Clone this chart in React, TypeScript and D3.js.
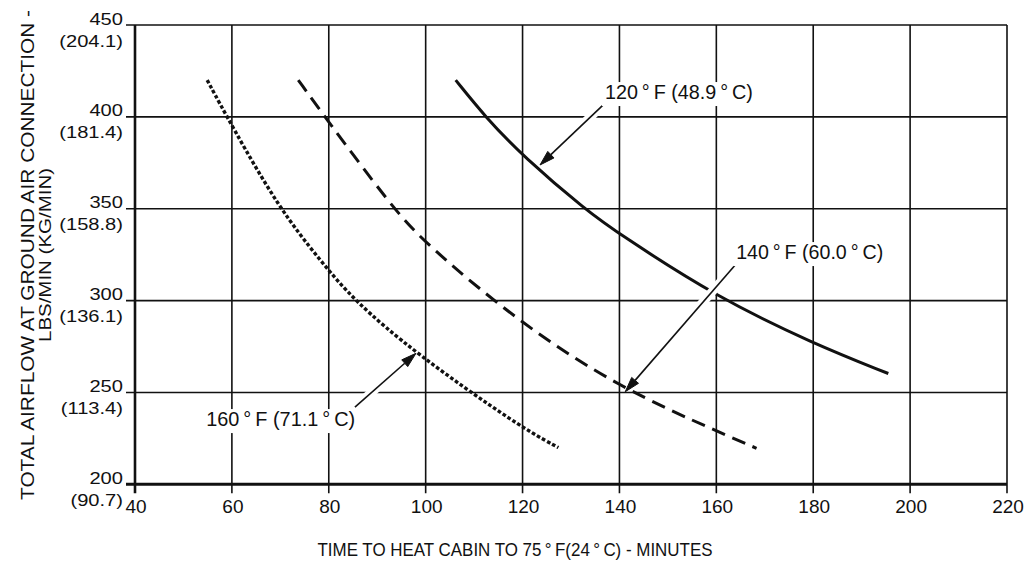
import React from 'react';
import * as d3 from 'd3';

// ---------- data ----------
const X_TICKS = [40, 60, 80, 100, 120, 140, 160, 180, 200, 220];
const Y_TICKS = [200, 250, 300, 350, 400, 450];
const Y_TICK_KG = ['(90.7)', '(113.4)', '(136.1)', '(158.8)', '(181.4)', '(204.1)'];

// 120°F (48.9°C) – solid
const CURVE_120_X = [106.2, 112.3, 120.2, 133.2, 140.1, 160, 180, 195.5];
const CURVE_120_Y = [420, 400, 378.3, 349, 336, 302, 276.6, 260.3];
// 140°F (60.0°C) – dashed
const CURVE_140_X = [73.7, 79.2, 93.3, 100.2, 119.5, 140.3, 160.4, 168.3];
const CURVE_140_Y = [420, 400, 350, 330.5, 287.6, 252.2, 228.6, 219.6];
// 160°F (71.1°C) – dotted
const CURVE_160_X = [54.9, 60, 69.8, 78.2, 85.1, 97.8, 119.5, 127.4];
const CURVE_160_Y = [420, 395, 350, 322, 300.3, 271.5, 231.2, 220];

const TS = '\u2009';
const LABELS = [
  `120${TS}°${TS}F (48.9${TS}°${TS}C)`,
  `140${TS}°${TS}F (60.0${TS}°${TS}C)`,
  `160${TS}°${TS}F (71.1${TS}°${TS}C)`,
];
const LABEL_X = [137.0, 164.1, 54.7];
const LABEL_Y = [409.7, 322.6, 231.7];
const LEADER_X = [136.6, 163.9, 85.4];
const LEADER_Y = [406.4, 319.4, 242.0];
const TIP_X = [123.6, 141.2, 98.0];
const TIP_Y = [373.8, 250.4, 271.3];

const X_TITLE = `TIME TO HEAT CABIN TO 75${TS}°${TS}F(24${TS}°${TS}C) - MINUTES`;
const Y_TITLE_1 = 'TOTAL AIRFLOW AT GROUND AIR CONNECTION -';
const Y_TITLE_2 = 'LBS/MIN (KG/MIN)';

// ---------- layout ----------
const W = 1026;
const H = 569;
const xScale = d3.scaleLinear().domain([40, 220]).range([135, 1007]);
const yScale = d3.scaleLinear().domain([200, 450]).range([484.3, 25]);
const FONT = "'Liberation Sans', Arial, Helvetica, sans-serif";
const INK = '#111';

const line = d3
  .line<[number, number]>()
  .x((d) => xScale(d[0]))
  .y((d) => yScale(d[1]))
  .curve(d3.curveBasis);

const zip = (xs: number[], ys: number[]): [number, number][] => xs.map((x, i) => [x, ys[i]]);

const CURVES = [
  { pts: zip(CURVE_120_X, CURVE_120_Y), dash: undefined as string | undefined, w: 3 },
  { pts: zip(CURVE_140_X, CURVE_140_Y), dash: '14,8', w: 3 },
  { pts: zip(CURVE_160_X, CURVE_160_Y), dash: '3.6,2.2', w: 3.4 },
];

const LABEL_W = [148, 147, 149];

export default function App() {
  const x0 = xScale(40);
  const x1 = xScale(220);
  const y0 = yScale(200);
  const y1 = yScale(450);

  return (
    <svg
      width={W}
      height={H}
      style={{ position: 'absolute', left: 0, top: 0, background: '#fff' }}
      fontFamily={FONT}
    >
      <rect x={0} y={0} width={W} height={H} fill="#fff" />

      {/* vertical grid lines */}
      {X_TICKS.slice(1).map((t) => (
        <line key={'vx' + t} x1={xScale(t)} x2={xScale(t)} y1={y1} y2={y0 + 9} stroke={INK} strokeWidth={1.6} />
      ))}
      {/* horizontal grid lines */}
      {Y_TICKS.slice(1).map((t) => (
        <line key={'hy' + t} x1={x0 - 9} x2={x1} y1={yScale(t)} y2={yScale(t)} stroke={INK} strokeWidth={1.6} />
      ))}
      {/* axes */}
      <line x1={x0} x2={x0} y1={y1} y2={y0 + 9} stroke={INK} strokeWidth={2.6} />
      <line x1={x0 - 9} x2={x1} y1={y0} y2={y0} stroke={INK} strokeWidth={3} />

      {/* y tick labels */}
      {Y_TICKS.map((t, i) => (
        <g key={'yl' + t}>
          <g transform={`translate(123,${yScale(t) - 0.5}) scale(1.22,1)`}>
            <text textAnchor="end" fontSize={16.5} fill={INK}>{t}</text>
          </g>
          <g transform={`translate(123,${yScale(t) + 21.5}) scale(1.22,1)`}>
            <text textAnchor="end" fontSize={16.5} fill={INK}>{Y_TICK_KG[i]}</text>
          </g>
        </g>
      ))}

      {/* x tick labels */}
      {X_TICKS.map((t) => (
        <text key={'xl' + t} x={xScale(t) + 1} y={513} textAnchor="middle" fontSize={19} fill={INK}>
          {t}
        </text>
      ))}

      {/* curves */}
      {CURVES.map((c, i) => (
        <path
          key={'c' + i}
          d={line(c.pts) || ''}
          fill="none"
          stroke={INK}
          strokeWidth={c.w}
          strokeDasharray={c.dash}
        />
      ))}

      {/* annotations */}
      {LABELS.map((lab, i) => {
        const sx = xScale(LEADER_X[i]);
        const sy = yScale(LEADER_Y[i]);
        const tx = xScale(TIP_X[i]);
        const ty = yScale(TIP_Y[i]);
        const dx = tx - sx;
        const dy = ty - sy;
        const len = Math.hypot(dx, dy);
        const ux = dx / len;
        const uy = dy / len;
        const haloEnd = len - 18;
        const ah = 15;
        const aw = 4.5;
        const bx = tx - ux * ah;
        const by = ty - uy * ah;
        const arrow = `M${tx},${ty} L${bx - uy * aw},${by + ux * aw} L${bx + uy * aw},${by - ux * aw} Z`;
        const lx = xScale(LABEL_X[i]);
        const ly = yScale(LABEL_Y[i]);
        return (
          <g key={'a' + i}>
            <line
              x1={sx}
              y1={sy}
              x2={sx + ux * haloEnd}
              y2={sy + uy * haloEnd}
              stroke="#fff"
              strokeWidth={9}
            />
            <line x1={sx} y1={sy} x2={bx} y2={by} stroke={INK} strokeWidth={1.6} />
            <path d={arrow} fill={INK} stroke={INK} strokeWidth={1} />
            <rect x={lx - 3} y={ly - 17} width={LABEL_W[i] + 6} height={24} fill="#fff" />
            <text
              x={lx}
              y={ly}
              fontSize={19.5}
              fill={INK}
              textLength={LABEL_W[i]}
              lengthAdjust="spacingAndGlyphs"
            >
              {lab}
            </text>
          </g>
        );
      })}

      {/* axis titles */}
      <text
        x={515}
        y={556}
        textAnchor="middle"
        fontSize={19}
        fill={INK}
        textLength={395}
        lengthAdjust="spacingAndGlyphs"
      >
        {X_TITLE}
      </text>
      <text
        transform="translate(34,255) rotate(-90)"
        textAnchor="middle"
        fontSize={18}
        fill={INK}
        textLength={490}
        lengthAdjust="spacingAndGlyphs"
      >
        {Y_TITLE_1}
      </text>
      <text
        transform="translate(50.5,255) rotate(-90)"
        textAnchor="middle"
        fontSize={17}
        fill={INK}
        textLength={174}
        lengthAdjust="spacingAndGlyphs"
      >
        {Y_TITLE_2}
      </text>
    </svg>
  );
}
